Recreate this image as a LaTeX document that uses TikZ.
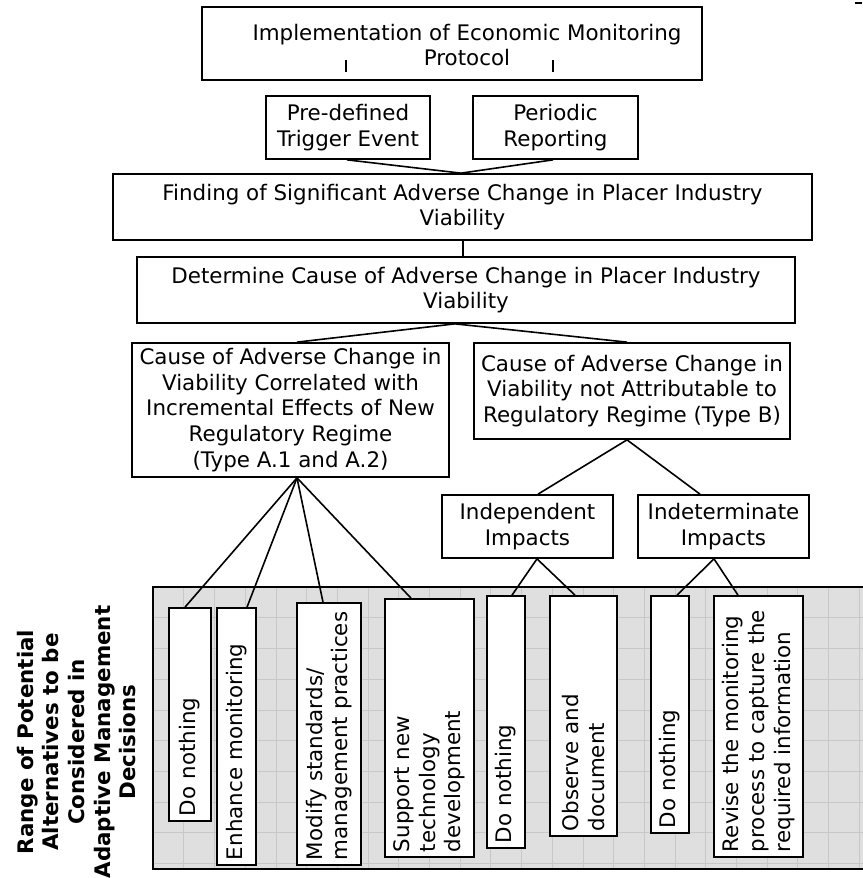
\documentclass[tikz,border=0pt]{standalone}
\usepackage{fontspec}
\setmainfont{DejaVu Sans}
\usetikzlibrary{calc}
\definecolor{greyfill}{HTML}{DFDFDF}
\definecolor{gridcol}{HTML}{C8C8C8}
\tikzset{
  basefont/.style={font=\fontsize{21.4pt}{25.7pt}\selectfont},
  hbox/.style={basefont, draw, line width=1.7pt, fill=white, inner sep=0pt, align=center},
  vbox/.style={basefont, draw, line width=1.7pt, fill=white, rotate=90, inner xsep=5pt, inner ysep=0pt, align=left},
  txt/.style={basefont, align=center, inner sep=0pt},
  conn/.style={line width=1.6pt},
  gridline/.style={line width=0.6pt, gridcol}
}
\begin{document}
\begin{tikzpicture}[x=1pt,y=-1pt]
\useasboundingbox (0,0) rectangle (862,878);
% grey background region
\fill[greyfill] (153,587) rectangle (880,869);
\foreach \i in {1,...,23} \draw[gridline] ({153+30.7*\i},587) -- ({153+30.7*\i},869);
\foreach \j in {1,...,9} \draw[gridline] (153,{587+30.7*\j}) -- (880,{587+30.7*\j});
\draw[line width=1.6pt] (880,587) -- (153,587) -- (153,869) -- (880,869);

% top boxes
\node[hbox, minimum width=500pt, minimum height=73pt] (top) at (452,43.5) {};
\node[txt] (toptxt) at (467,45) {Implementation of Economic Monitoring\\Protocol};
\node[hbox, minimum width=164pt, minimum height=63pt] (pre) at (348,127.5) {Pre-defined\\Trigger Event};
\node[hbox, minimum width=165pt, minimum height=63pt] (per) at (555.5,127.5) {Periodic\\Reporting};
\node[hbox, minimum width=699pt, minimum height=66pt] (find) at (462.5,207) {Finding of Significant Adverse Change in Placer Industry\\Viability};
\node[hbox, minimum width=658pt, minimum height=66pt] (det) at (466,290) {Determine Cause of Adverse Change in Placer Industry\\Viability};
\node[hbox, minimum width=317pt, minimum height=134pt] (causeA) at (290.5,410) {Cause of Adverse Change in\\Viability Correlated with\\Incremental Effects of New\\Regulatory Regime\\(Type A.1 and A.2)};
\node[hbox, minimum width=316pt, minimum height=96pt] (causeB) at (632,391) {Cause of Adverse Change in\\Viability not Attributable to\\Regulatory Regime (Type B)};
\node[hbox, minimum width=171pt, minimum height=63pt] (indep) at (527.5,526.5) {Independent\\Impacts};
\node[hbox, minimum width=171pt, minimum height=63pt] (indet) at (723.5,526.5) {Indeterminate\\Impacts};

% vertical option boxes
\node[vbox, text width=203pt, minimum height=42pt] (dn1) at (190,714.5) {Do nothing};
\node[vbox, text width=247pt, minimum height=39pt] (enh) at (236.5,736.5) {Enhance monitoring};
\node[vbox, text width=252pt, minimum height=64pt] (mod) at (329,734) {Modify standards/\\management practices};
\node[vbox, text width=248pt, minimum height=89pt] (sup) at (429.5,728) {Support new\\technology\\development};
\node[vbox, text width=242pt, minimum height=38pt] (dn2) at (506,722) {Do nothing};
\node[vbox, text width=230pt, minimum height=67pt] (obs) at (583.5,716) {Observe and\\document};
\node[vbox, text width=227pt, minimum height=38pt] (dn3) at (670,714.5) {Do nothing};
\node[vbox, text width=251pt, minimum height=89pt] (rev) at (758.5,726.5) {Revise the monitoring\\process to capture the\\required information};

% side label
\node[font=\fontsize{21.4pt}{25.7pt}\selectfont\bfseries, rotate=90, align=center, inner sep=0pt] (side) at (76.5,742) {Range of Potential\\Alternatives to be\\Considered in\\Adaptive Management\\Decisions};

% stub ticks in top box
\coordinate (tka) at (346,60);
\coordinate (tkb) at (346,72);
\coordinate (tkc) at (553,60);
\coordinate (tkd) at (553,72);
\draw[conn] (tka) -- (tkb);
\draw[conn] (tkc) -- (tkd);
\coordinate (mka) at (855,3);
\coordinate (mkb) at (862,3);
\draw[line width=2pt] (mka) -- (mkb);

% connectors
\draw[conn] ([xshift=-1pt]pre.south) -- ([xshift=-1.5pt]find.north);
\draw[conn] ([xshift=-2.5pt]per.south) -- ([xshift=-1.5pt]find.north);
\draw[conn] ([xshift=0.5pt]find.south) -- ([xshift=-3pt]det.north);
\draw[conn] ([xshift=-11pt]det.south) -- ([xshift=6.5pt]causeA.north);
\draw[conn] ([xshift=-11pt]det.south) -- ([xshift=-5pt]causeB.north);
\draw[conn] ([xshift=6.5pt]causeA.south) -- ([xshift=-5pt]dn1.east);
\draw[conn] ([xshift=6.5pt]causeA.south) -- ([xshift=10.5pt]enh.east);
\draw[conn] ([xshift=6.5pt]causeA.south) -- ([xshift=-6pt]mod.east);
\draw[conn] ([xshift=6.5pt]causeA.south) -- ([xshift=-18.5pt]sup.east);
\draw[conn] ([xshift=-5pt]causeB.south) -- ([xshift=10.5pt]indep.north);
\draw[conn] ([xshift=-5pt]causeB.south) -- ([xshift=-23.5pt]indet.north);
\draw[conn] ([xshift=9.5pt]indep.south) -- ([xshift=6pt]dn2.east);
\draw[conn] ([xshift=9.5pt]indep.south) -- ([xshift=-8.5pt]obs.east);
\draw[conn] ([xshift=-9.5pt]indet.south) -- ([xshift=7pt]dn3.east);
\draw[conn] ([xshift=-9.5pt]indet.south) -- ([xshift=-20.5pt]rev.east);
\end{tikzpicture}
\end{document}
